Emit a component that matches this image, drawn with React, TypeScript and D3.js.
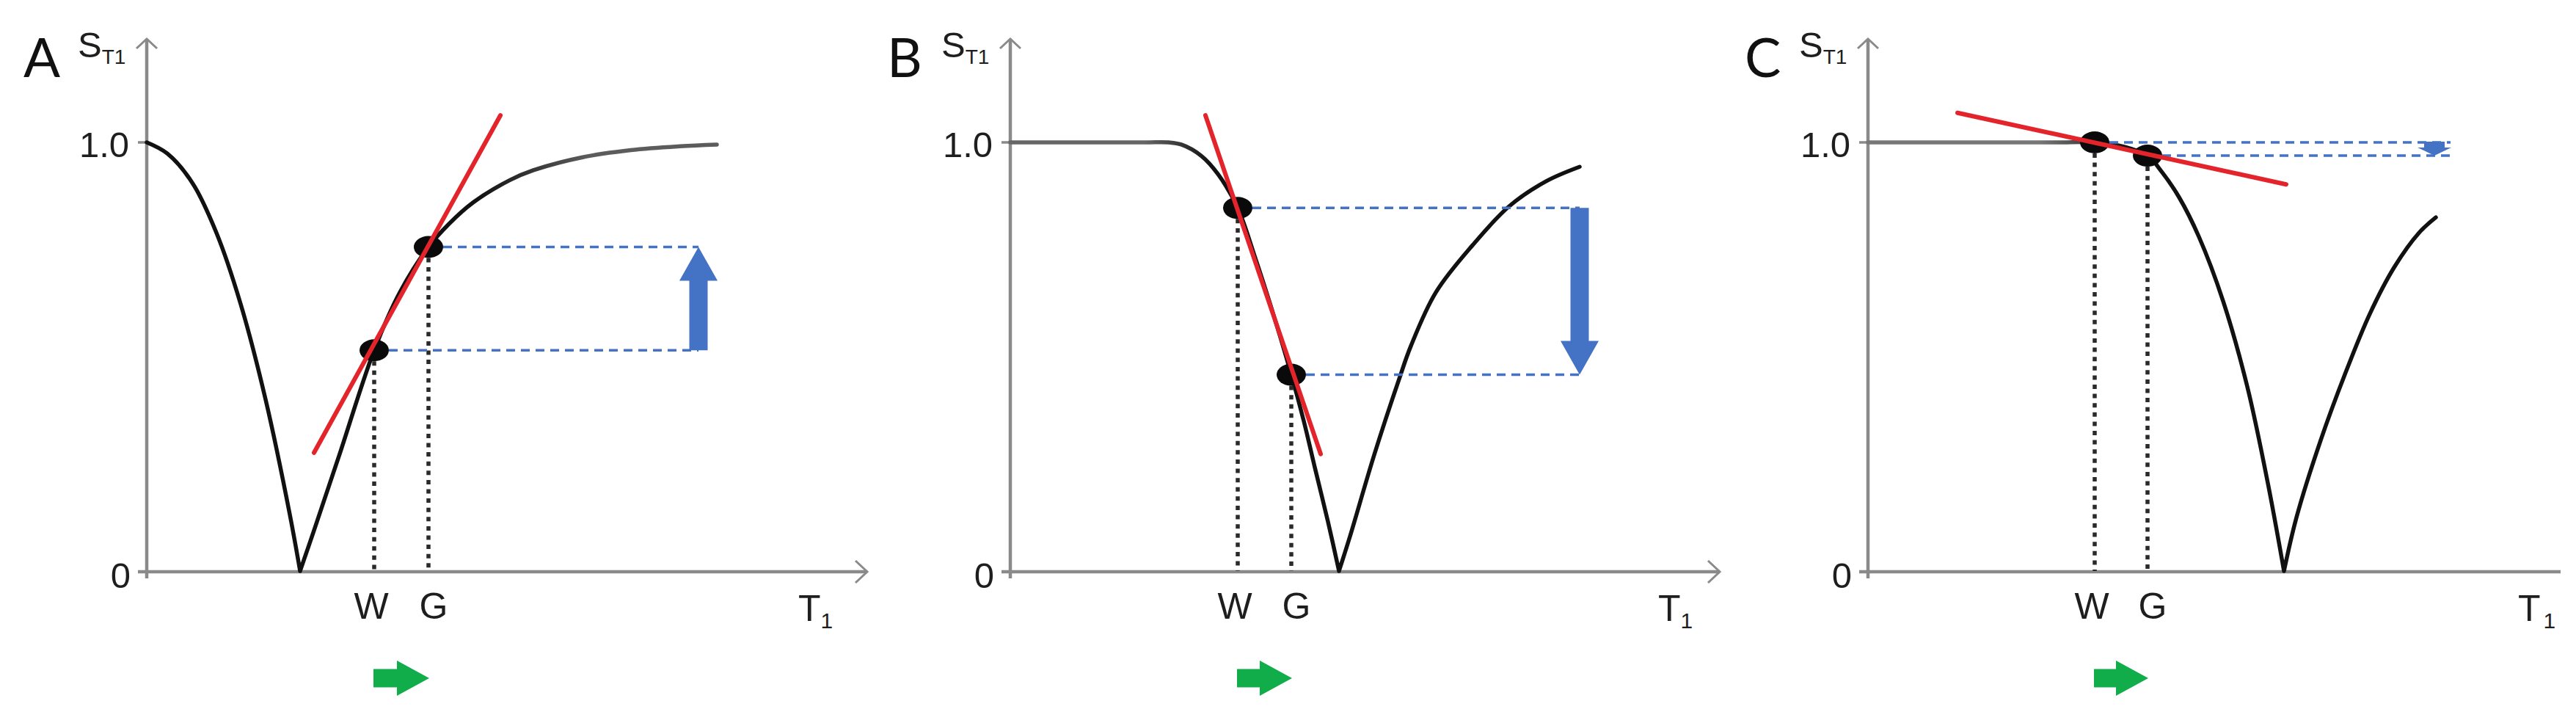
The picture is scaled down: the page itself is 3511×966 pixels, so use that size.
import React from "react";
import * as d3 from "d3";

const WIDTH = 3511;
const HEIGHT = 966;

// ---------- data ----------
const panelLetters = ["A", "B", "C"];
const yTickValues = [0, 1.0];
const yTickLabels = ["0", "1.0"];
const markerLabels = ["W", "G"];

// [T1 (arbitrary units), S_T1]
const curveA: [number, number][] = [
  [0, 1.0], [0.28, 0.974], [0.62, 0.906], [0.95, 0.789], [1.28, 0.623], [1.62, 0.4], [1.95, 0.132], [2.09, 0],
  [2.28, 0.095], [2.62, 0.268], [3.1, 0.515], [3.45, 0.65], [3.84, 0.756], [4.12, 0.81], [4.45, 0.86],
  [4.95, 0.912], [5.27, 0.935], [5.93, 0.965], [6.6, 0.982], [7.27, 0.991], [7.77, 0.995],
];
const curveB: [number, number][] = [
  [0, 1.0], [1.83, 1.0], [2.16, 1.0], [2.33, 0.995], [2.6, 0.969], [2.83, 0.926], [3.1, 0.847], [3.33, 0.735],
  [3.56, 0.613], [3.83, 0.458], [4.0, 0.35], [4.16, 0.235], [4.33, 0.115], [4.48, 0],
  [4.63, 0.081], [4.96, 0.271], [5.3, 0.448], [5.46, 0.525], [5.8, 0.65], [6.3, 0.76], [6.8, 0.851],
  [7.3, 0.909], [7.76, 0.943],
];
const curveC: [number, number][] = [
  [0, 1.0], [2.54, 1.0], [3.09, 1.0], [3.49, 0.99], [3.81, 0.969], [4.01, 0.93], [4.24, 0.872], [4.51, 0.78],
  [4.84, 0.63], [5.17, 0.43], [5.45, 0.205], [5.67, 0],
  [5.84, 0.125], [6.17, 0.305], [6.51, 0.463], [6.84, 0.6], [7.17, 0.708], [7.51, 0.789], [7.74, 0.825],
];

const wPointT = [3.1, 3.1, 3.09];
const wPointS = [0.515, 0.847, 1.0];
const gPointT = [3.84, 3.83, 3.81];
const gPointS = [0.756, 0.458, 0.969];

const tangentA: [number, number][] = [[2.28, 0.276], [4.82, 1.063]];
const tangentB: [number, number][] = [[2.66, 1.063], [4.23, 0.273]];
const tangentC: [number, number][] = [[1.22, 1.069], [5.7, 0.902]];

const guideEndT = [7.52, 7.76, 7.94];
const changeArrowT = [7.52, 7.76, 7.72];

const curves = [curveA, curveB, curveC];
const tangents = [tangentA, tangentB, tangentC];

// ---------- layout / style ----------
const layout = [
  { axisX: 200, axisEnd: 1182, xArrow: true, tX: 1088, g: [650, 800, "#111", "#5c5c5c"] },
  { axisX: 1377, axisEnd: 2344, xArrow: true, tX: 2260, g: [1560, 1650, "#666", "#111"] },
  { axisX: 2546, axisEnd: 3490, xArrow: false, tX: 3432, g: [2780, 2900, "#777", "#111"] },
];

const AXIS = "#8a8a8a";
const TEXT = "#1e1e1e";
const BLUE = "#4472c4";
const RED = "#e3242b";
const GREEN = "#12ad4b";
const SANS = "'Liberation Sans', Arial, sans-serif";
const LETTER_FONT = "Lato, 'Open Sans', sans-serif";

const y = d3.scaleLinear().domain([0, 1]).range([778, 194]);

function vArrow(cx: number, y0: number, y1: number, shaftW: number, headW: number, headH: number) {
  const dir = Math.sign(y1 - y0);
  const hb = y1 - dir * headH;
  const pts = [
    [cx - shaftW / 2, y0], [cx - shaftW / 2, hb], [cx - headW / 2, hb], [cx, y1],
    [cx + headW / 2, hb], [cx + shaftW / 2, hb], [cx + shaftW / 2, y0],
  ];
  return pts.map((p) => p.join(",")).join(" ");
}

function hArrow(x0: number, x1: number, cy: number, shaftH: number, headH: number, headL: number) {
  const hb = x1 - headL;
  const pts = [
    [x0, cy - shaftH / 2], [hb, cy - shaftH / 2], [hb, cy - headH / 2], [x1, cy],
    [hb, cy + headH / 2], [hb, cy + shaftH / 2], [x0, cy + shaftH / 2],
  ];
  return pts.map((p) => p.join(",")).join(" ");
}

function Panel({ i }: { i: number }) {
  const L = layout[i];
  const x = d3.scaleLinear().domain([0, 10]).range([L.axisX, L.axisX + 1000]);
  const curve = curves[i];
  const minIdx = d3.minIndex(curve, (d) => d[1]);
  const line = d3
    .line<[number, number]>()
    .x((d) => x(d[0]))
    .y((d) => y(d[1]))
    .curve(d3.curveCatmullRom.alpha(0.5));
  const leftPath = line(curve.slice(0, minIdx + 1)) || "";
  const rightPath = line(curve.slice(minIdx)) || "";
  const gradId = `grad${i}`;
  const y0 = y(0);
  const y1 = y(1);
  const rx = 20;
  const ry = 15;
  const pts = [
    { t: wPointT[i], s: wPointS[i] },
    { t: gPointT[i], s: gPointS[i] },
  ];
  const tan = tangents[i];
  const ax = x(changeArrowT[i]);
  const aFrom = y(wPointS[i]);
  const aTo = y(gPointS[i]);
  const small = Math.abs(aTo - aFrom) < 60;
  const arrowPts = small
    ? vArrow(ax, aFrom - 1, aTo, 28, 46, Math.abs(aTo - aFrom) * 0.62)
    : vArrow(ax, aFrom, aTo, 25, 52, 46);

  return (
    <g>
      <defs>
        <linearGradient id={gradId} gradientUnits="userSpaceOnUse" x1={L.g[0] as number} x2={L.g[1] as number} y1={0} y2={0}>
          <stop offset="0" stopColor={L.g[2] as string} />
          <stop offset="1" stopColor={L.g[3] as string} />
        </linearGradient>
      </defs>

      {/* axes */}
      <line x1={L.axisX} x2={L.axisX} y1={y0 + 10} y2={54} stroke={AXIS} strokeWidth={4.5} />
      <polyline
        points={`${L.axisX - 14},${66} ${L.axisX},${53} ${L.axisX + 14},${66}`}
        fill="none" stroke={AXIS} strokeWidth={3}
      />
      <line x1={L.axisX - 12} x2={L.axisEnd} y1={y0 + 1} y2={y0 + 1} stroke={AXIS} strokeWidth={4.5} />
      {L.xArrow && (
        <polyline
          points={`${L.axisEnd - 16},${y0 - 14} ${L.axisEnd},${y0 + 1} ${L.axisEnd - 16},${y0 + 16}`}
          fill="none" stroke={AXIS} strokeWidth={3}
        />
      )}
      <line x1={L.axisX - 12} x2={L.axisX} y1={y1} y2={y1} stroke={AXIS} strokeWidth={3.5} />

      {/* tick labels */}
      {yTickValues.map((v, k) => (
        <text
          key={k}
          x={L.axisX - (v === 0 ? 22 : 24)}
          y={v === 0 ? y(v) + 23 : y(v) + 20}
          textAnchor="end"
          fontSize={49}
          fontFamily={SANS}
          fill={TEXT}
        >
          {yTickLabels[k]}
        </text>
      ))}

      {/* axis titles */}
      <text x={L.axisX - 168} y={105} fontSize={74} fontFamily={LETTER_FONT} fill="#111">
        {panelLetters[i]}
      </text>
      <text x={L.axisX - 94} y={78} fontSize={49} fontFamily={SANS} fill={TEXT}>
        S<tspan fontSize={28} dy={9}>T1</tspan>
      </text>
      <text x={L.tX} y={846} fontSize={50} fontFamily={SANS} fill={TEXT}>
        T<tspan fontSize={30} dy={10} dx={i === 2 ? 4 : 0}>1</tspan>
      </text>

      {/* curve */}
      <path d={leftPath + rightPath} fill="none" stroke={`url(#${gradId})`} strokeWidth={5.5} strokeLinecap="round" strokeLinejoin="round" />

      {/* dotted drop lines */}
      {pts.map((p, k) => (
        <line
          key={k}
          x1={x(p.t)} x2={x(p.t)}
          y1={y(p.s) + ry} y2={y0}
          stroke="#2a2a2a" strokeWidth={5.5} strokeDasharray="6 6.6"
        />
      ))}

      {/* blue dashed guides */}
      {pts.map((p, k) => (
        <line
          key={k}
          x1={x(p.t) + rx} x2={x(guideEndT[i])}
          y1={y(p.s)} y2={y(p.s)}
          stroke={BLUE} strokeWidth={3.5} strokeDasharray="12 8"
        />
      ))}

      {/* points */}
      {pts.map((p, k) => (
        <ellipse key={k} cx={x(p.t)} cy={y(p.s)} rx={rx} ry={ry} fill="#0a0a0a" />
      ))}

      {/* tangent */}
      <line
        x1={x(tan[0][0])} y1={y(tan[0][1])} x2={x(tan[1][0])} y2={y(tan[1][1])}
        stroke={RED} strokeWidth={6} strokeLinecap="round"
      />

      {/* signal change arrow */}
      <polygon points={arrowPts} fill={BLUE} />

      {/* W / G labels */}
      {pts.map((p, k) => (
        <text
          key={k}
          x={x(p.t) + (k === 0 ? -4 : 7)}
          y={843}
          textAnchor="middle"
          fontSize={50}
          fontFamily={SANS}
          fill={TEXT}
        >
          {markerLabels[k]}
        </text>
      ))}

      {/* green shift arrow */}
      <polygon points={hArrow(x(wPointT[i]) - 1, x(gPointT[i]) + 1, 924, 25, 48, 44)} fill={GREEN} />
    </g>
  );
}

export default function App() {
  return (
    <svg
      width={WIDTH}
      height={HEIGHT}
      viewBox={`0 0 ${WIDTH} ${HEIGHT}`}
      style={{ position: "absolute", left: 0, top: 0, display: "block", background: "#fff" }}
    >
      <rect x={0} y={0} width={WIDTH} height={HEIGHT} fill="#fff" />
      {[0, 1, 2].map((i) => (
        <Panel key={i} i={i} />
      ))}
    </svg>
  );
}
